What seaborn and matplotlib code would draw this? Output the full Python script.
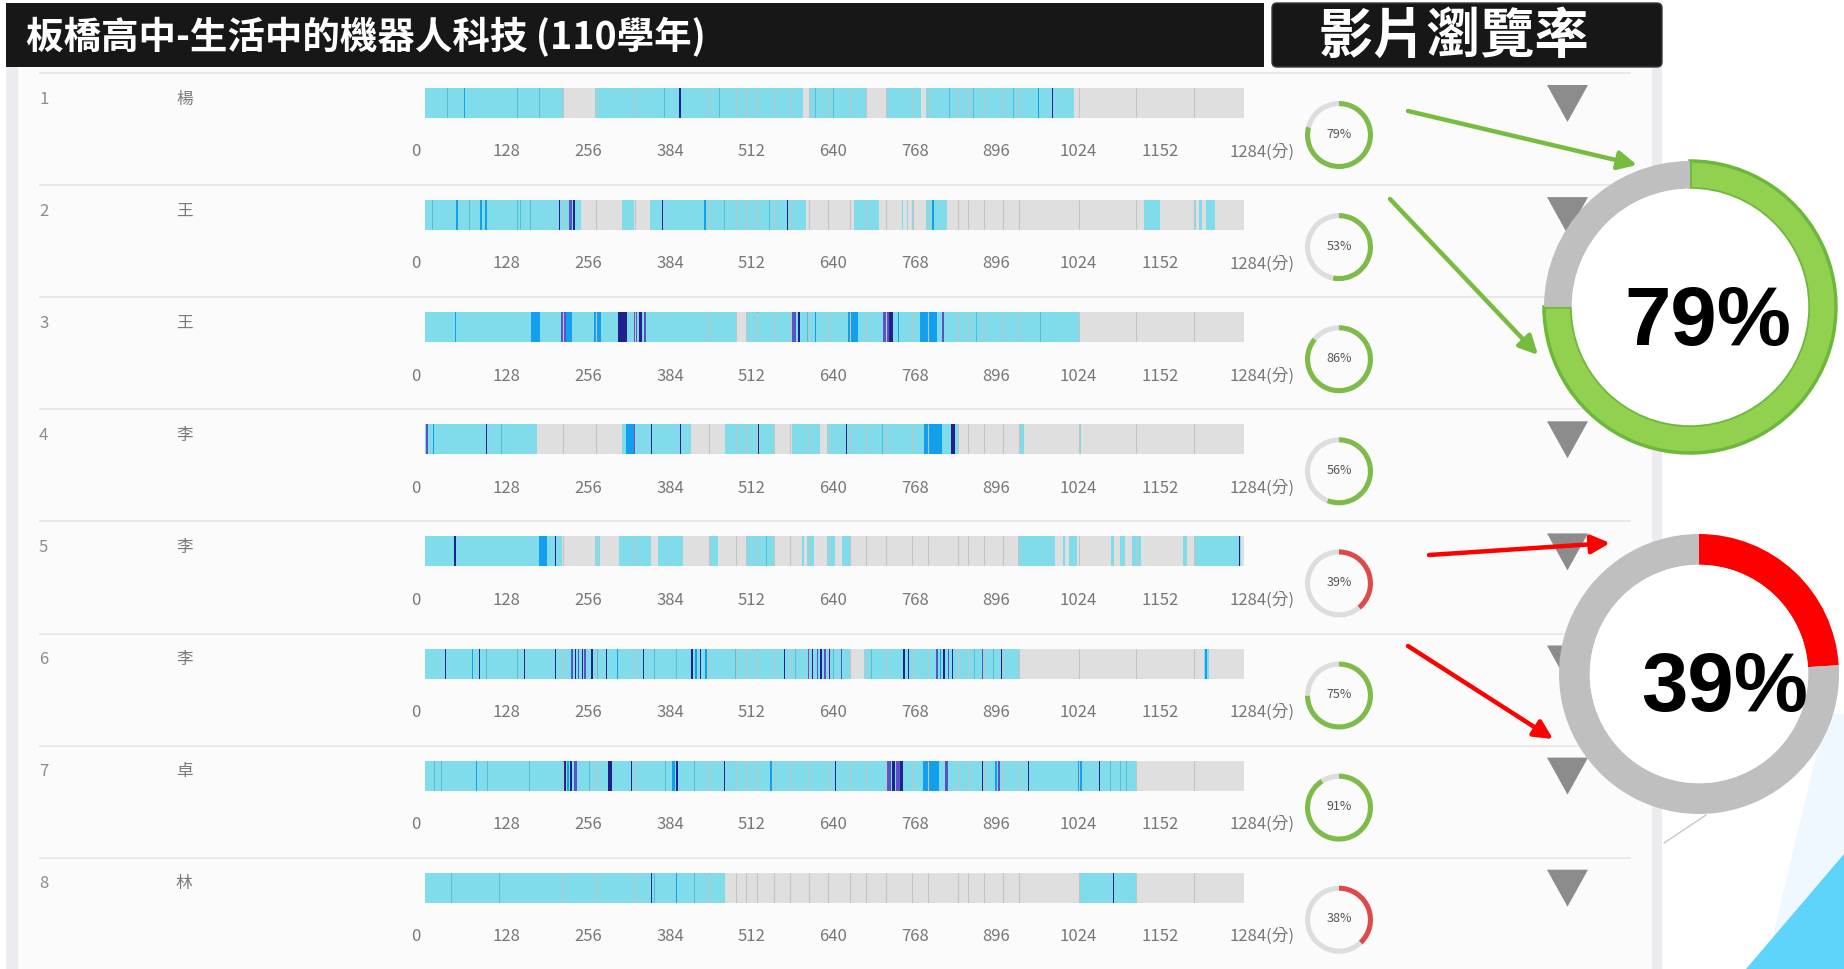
import matplotlib
matplotlib.use('Agg')
import matplotlib.pyplot as plt
from matplotlib.patches import Rectangle, Polygon, FancyBboxPatch, Circle
from matplotlib.transforms import ScaledTranslation
import seaborn as sns

# ---- data ----
title = '板橋高中-生活中的機器人科技 (110學年)'
badge = '影片瀏覽率'
video_len = 1284
tick_vals = [0, 128, 256, 384, 512, 640, 768, 896, 1024, 1152, 1284]
tick_labels = ['0', '128', '256', '384', '512', '640', '768', '896', '1024', '1152', '1284(分)']

row_ids = [1, 2, 3, 4, 5, 6, 7, 8]
names = ['楊', '王', '王', '李', '李', '李', '卓', '林']
view_pct = [79, 53, 86, 56, 39, 75, 91, 38]

# watched stretches (start minute, end minute)
watched = [
    [(0, 218), (266, 592), (602, 691), (723, 778), (786, 1017)],
    [(0, 245), (309, 328), (353, 598), (673, 712), (748, 750), (755, 758), (763, 767),
     (786, 819), (1127, 1153), (1206, 1209), (1214, 1218), (1224, 1238)],
    [(0, 489), (504, 1025)],
    [(0, 175), (309, 417), (470, 549), (576, 619), (630, 836), (932, 939), (1025, 1029)],
    [(0, 215), (266, 274), (304, 354), (366, 404), (445, 460), (504, 547), (591, 594),
     (599, 610), (630, 642), (653, 666), (929, 987), (1001, 1004), (1010, 1022),
     (1075, 1080), (1090, 1098), (1108, 1122), (1188, 1195), (1206, 1279)],
    [(0, 666), (689, 932), (1222, 1229)],
    [(0, 1114)],
    [(0, 470), (1025, 1114)],
]

# repeated-viewing marks: (minute, width, level) level 1 teal, 2 blue, 3 purple, 4 navy
marks = [
    [(35, 1, 1), (62, 2, 2), (110, 1, 1), (145, 1, 1), (180, 1, 1), (295, 1, 1), (320, 1, 1),
     (340, 1, 1), (375, 1, 1), (400, 3, 4), (420, 1, 1), (462, 1, 1), (480, 1, 1), (612, 1, 1),
     (640, 1, 1), (660, 1, 1), (822, 1, 1), (860, 1, 1), (900, 1, 1), (923, 1, 1), (962, 1, 2),
     (984, 1, 4)],
    [(12, 1, 1), (50, 2, 2), (70, 1, 1), (88, 3, 2), (95, 3, 2), (145, 1, 1), (150, 1, 1),
     (165, 1, 1), (211, 1, 4), (228, 4, 3), (233, 3, 4), (262, 1, 1), (330, 1, 1), (372, 1, 4),
     (439, 2, 2), (470, 1, 1), (500, 1, 1), (540, 1, 1), (568, 1, 4), (657, 1, 3), (797, 3, 2)],
    [(48, 1, 2), (173, 14, 2), (217, 7, 3), (225, 12, 2), (270, 11, 2), (310, 14, 4),
     (330, 4, 3), (338, 5, 4), (345, 3, 3), (521, 2, 2), (579, 6, 3), (586, 3, 4), (600, 1, 1),
     (612, 1, 2), (630, 1, 1), (671, 16, 2), (723, 10, 3), (730, 6, 4), (742, 2, 2),
     (789, 26, 2), (812, 4, 3), (865, 1, 1), (895, 1, 1), (965, 1, 1)],
    [(3, 3, 3), (13, 1, 2), (52, 1, 1), (96, 2, 4), (120, 1, 1), (157, 1, 1), (321, 12, 2),
     (328, 2, 3), (355, 2, 4), (400, 2, 4), (523, 2, 4), (661, 2, 4), (717, 1, 1),
     (797, 28, 2), (828, 7, 4)],
    [(47, 2, 4), (146, 1, 1), (185, 13, 2), (205, 2, 4), (210, 1, 2), (535, 1, 1), (1277, 2, 4)],
    [(32, 2, 4), (41, 1, 1), (58, 1, 1), (75, 2, 2), (86, 2, 4), (96, 1, 1), (145, 1, 1),
     (156, 2, 4), (205, 1, 4), (213, 1, 1), (230, 3, 3), (236, 2, 4), (241, 2, 3), (247, 2, 4),
     (251, 3, 3), (262, 2, 4), (270, 1, 1), (285, 1, 4), (302, 1, 2), (330, 1, 1), (343, 2, 4),
     (360, 1, 1), (394, 1, 1), (419, 3, 4), (425, 3, 2), (432, 2, 4), (440, 3, 2), (487, 1, 1),
     (521, 1, 2), (547, 1, 1), (564, 2, 4), (581, 1, 1), (602, 2, 3), (608, 2, 4), (615, 2, 3),
     (621, 2, 4), (627, 3, 3), (634, 2, 4), (640, 1, 1), (653, 2, 3), (700, 1, 1), (715, 1, 1),
     (751, 3, 4), (758, 2, 4), (802, 3, 3), (808, 2, 2), (814, 3, 4), (821, 2, 3), (827, 1, 4),
     (861, 1, 1), (874, 2, 3), (891, 1, 1), (904, 1, 4), (1224, 3, 2)],
    [(6, 1, 1), (15, 1, 1), (26, 1, 1), (81, 1, 2), (98, 1, 1), (164, 1, 1), (219, 4, 4),
     (224, 3, 2), (229, 3, 4), (236, 4, 3), (258, 1, 1), (290, 6, 4), (324, 1, 4), (377, 1, 1),
     (390, 4, 2), (395, 3, 4), (423, 1, 1), (470, 1, 4), (542, 3, 2), (585, 1, 4), (644, 1, 4),
     (728, 6, 3), (734, 5, 4), (741, 6, 3), (747, 4, 4), (783, 1, 1), (793, 25, 2), (818, 5, 3),
     (874, 1, 4), (895, 3, 2), (900, 4, 3), (946, 1, 4), (1027, 7, 2), (1057, 1, 4),
     (1075, 1, 1), (1090, 1, 1), (1100, 1, 1)],
    [(42, 1, 1), (83, 1, 1), (117, 1, 1), (179, 1, 1), (262, 1, 1), (355, 2, 4), (360, 1, 1),
     (394, 1, 2), (423, 1, 1), (446, 1, 2), (1079, 1, 4)],
]

# segment borders of the video cells
cell_edges = [217, 268, 330, 445, 487, 504, 521, 547, 572, 602, 632, 666, 691, 723, 763,
              789, 836, 851, 876, 906, 931, 1025, 1114, 1206]

# zoomed call-outs: label and arc share as drawn on the slide
callout_labels = ['79%', '39%']
callout_arc = [75, 24]

# ---- styling ----
sns.set_theme(style='white')
plt.rcParams['font.family'] = ['Noto Sans CJK TC', 'DejaVu Sans']

CYAN = '#80dcea'
BAR_GRAY = '#dfdfdf'
LEVEL_COL = {1: '#55bdd4', 2: '#12a0ee', 3: '#5a52c8', 4: '#20208f'}
GREEN = '#7dbb4a'
RED = '#de4a4a'

W, H = 1844, 970
fig = plt.figure(figsize=(W / 100, H / 100), dpi=100)


def px_axes(x0, y0, x1, y1, **kw):
    return fig.add_axes([x0 / W, 1 - y1 / H, (x1 - x0) / W, (y1 - y0) / H], **kw)


row_top = [74 + 112.1 * i for i in range(len(row_ids))]

# background layer
bg = px_axes(0, 0, W, H)
bg.set_xlim(0, W)
bg.set_ylim(H, 0)
bg.axis('off')
bg.add_patch(Rectangle((0, 0), W, H, fc='white', ec='none'))
bg.add_patch(Polygon([(1826, 715), (1765, 970), (1844, 970), (1844, 715)], fc='#eef8fe', ec='none'))
bg.add_patch(Polygon([(1844, 855), (1746, 970), (1844, 970)], fc='#5fd4fa', ec='none'))
bg.plot([1664, 1706], [844, 816], color='#c8c8c8', lw=1)
bg.add_patch(Rectangle((18, 68), 1634, 902, fc='#fbfbfb', ec='none'))
bg.add_patch(Rectangle((6, 68), 12, 902, fc='#ececf0', ec='none'))
bg.add_patch(Rectangle((1652, 68), 10, 902, fc='#ececf0', ec='none'))
bg.add_patch(Rectangle((6, 4), 1258, 64, fc='#171717', ec='none'))
bg.add_patch(FancyBboxPatch((1272, 4), 390, 64, boxstyle='round,pad=0,rounding_size=5',
                            fc='#171717', ec='#3a3a3a', lw=1))
bg.text(26, 37, title, color='white', fontsize=27, fontweight='heavy', va='center', ha='left')
bg.text(1454, 37, badge, color='white', fontsize=39, fontweight='heavy', va='center', ha='center')

bg.hlines(row_top, 39, 1631, color='#e6e6e6', lw=1.3)
for i, top in enumerate(row_top):
    bg.text(39, top + 25, str(row_ids[i]), color='#8c8c8c', fontsize=12, va='center', ha='left')
    bg.text(176, top + 25, names[i], color='#7a7a7a', fontsize=12, va='center', ha='left')
    bg.add_patch(Polygon([(1547, top + 12), (1588, top + 12), (1567.5, top + 49)],
                         fc='#8c8c8c', ec='none'))

# heat strips
for i, top in enumerate(row_top):
    ax = px_axes(425, top + 15, 1244, top + 45)
    ax.set_xlim(0, video_len)
    ax.set_ylim(0, 1)
    ax.barh(0.5, video_len, height=1, left=0, color=BAR_GRAY, edgecolor='none')
    ax.vlines(cell_edges, 0, 1, color='#c4c4c4', lw=0.8)
    ax.broken_barh([(a, b - a) for a, b in watched[i]], (0, 1), facecolors=CYAN, edgecolor='none')
    for lvl in (1, 2, 3, 4):
        segs = [(m - w / 2, w) for m, w, l in marks[i] if l == lvl]
        if segs:
            ax.broken_barh(segs, (0, 1), facecolors=LEVEL_COL[lvl], edgecolor='none')
    ax.set_yticks([])
    ax.set_xticks(tick_vals)
    ax.set_xticklabels(tick_labels)
    ax.tick_params(axis='x', length=0, pad=17.5, labelsize=12, labelcolor='#777777')
    labs = ax.get_xticklabels()
    labs[0].set_transform(labs[0].get_transform() + ScaledTranslation(-0.09, 0, fig.dpi_scale_trans))
    labs[-1].set_transform(labs[-1].get_transform() + ScaledTranslation(0.18, 0, fig.dpi_scale_trans))
    for s in ax.spines.values():
        s.set_visible(False)

    # small progress ring
    cx, cy = 1339, top + 62
    dax = px_axes(cx - 38, cy - 38, cx + 38, cy + 38)
    p = view_pct[i]
    col = GREEN if p >= 50 else RED
    dax.pie([p, 100 - p], radius=1, startangle=90, counterclock=False,
            colors=[col, '#dddddd'], wedgeprops=dict(width=0.15, edgecolor='none'))
    dax.set_xlim(-38 / 34, 38 / 34)
    dax.set_ylim(-38 / 34, 38 / 34)
    dax.text(0, 0.05, f'{p}%', ha='center', va='center', fontsize=9, color='#555555')

# zoomed call-out rings
big = [((1690, 308), 146, 0.19, '#92d050', '#6cb83a', (0.12, -0.1)),
       ((1699, 675), 140, 0.22, '#ff0000', 'none', (0.18, -0.1))]
for k, ((cx, cy), r, wdt, col, edge, txy) in enumerate(big):
    half = r + 10
    bax = px_axes(cx - half, cy - half, cx + half, cy + half)
    share = callout_arc[k]
    wedges, _ = bax.pie([share, 100 - share], radius=1, startangle=90, counterclock=False,
                        colors=[col, '#bfbfbf'], wedgeprops=dict(width=wdt, edgecolor='none'))
    if edge != 'none':
        wedges[0].set_edgecolor(edge)
        wedges[0].set_linewidth(2.5)
    bax.add_patch(Circle((0, 0), 1 - wdt, fc='white', ec='none'))
    bax.set_xlim(-half / r, half / r)
    bax.set_ylim(-half / r, half / r)
    bax.text(txy[0], txy[1], callout_labels[k], ha='center', va='center', fontsize=60,
             fontweight='bold', color='black', family='Liberation Sans')

# arrows
ov = px_axes(0, 0, W, H)
ov.set_xlim(0, W)
ov.set_ylim(H, 0)
ov.axis('off')
ov.patch.set_alpha(0)
arrows = [((1408, 112), (1637, 166), '#76bc3f'), ((1390, 200), (1538, 356), '#76bc3f'),
          ((1429, 556), (1610, 544), '#ff0000'), ((1408, 647), (1553, 740), '#ff0000')]
for start, end, col in arrows:
    ov.annotate('', xy=end, xytext=start,
                arrowprops=dict(arrowstyle='-|>', color=col, lw=3.2, mutation_scale=28,
                                shrinkA=0, shrinkB=0))

fig.savefig('out.png', dpi=100)
